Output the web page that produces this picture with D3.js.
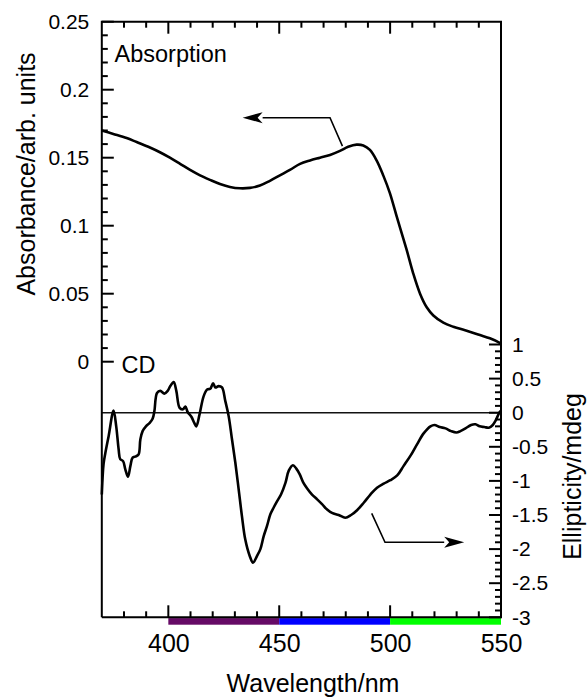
<!DOCTYPE html>
<html>
<head>
<meta charset="utf-8">
<script src="https://cdn.jsdelivr.net/npm/d3@7"></script>
<style>
    body { margin: 0; background: #fff; }
    svg { display: block; font-family: "Liberation Sans", Arial, sans-serif; }
</style>
</head>
<body>
<div id="chart"></div>
<script>
// absorption spectrum (left axis)
const absWavelength = [370.0, 375.2, 381.2, 385.7, 391.7, 396.2, 400.7, 405.3, 409.8, 414.3, 418.8, 423.3, 427.8, 432.3, 436.8, 441.3, 445.8, 450.3, 454.8, 459.4, 463.9, 468.4, 472.9, 477.4, 481.1, 484.9, 487.9, 490.9, 493.9, 496.9, 499.9, 503.0, 504.4, 507.5, 510.4, 513.5, 516.5, 519.5, 524.0, 528.5, 534.5, 540.5, 545.0, 549.2, 550.0];
const absorbance = [0.170, 0.1675, 0.1645, 0.1615, 0.1575, 0.154, 0.150, 0.1455, 0.141, 0.137, 0.1337, 0.1307, 0.1285, 0.1275, 0.1278, 0.1295, 0.133, 0.137, 0.141, 0.1455, 0.148, 0.150, 0.152, 0.155, 0.158, 0.1596, 0.159, 0.1557, 0.148, 0.137, 0.124, 0.1066, 0.099, 0.082, 0.065, 0.050, 0.040, 0.034, 0.0287, 0.0257, 0.0228, 0.0196, 0.0172, 0.0140, 0.013];

// CD spectrum (right axis)
const cdWavelength = [370.0, 370.8, 371.6, 373.1, 375.3, 376.5, 377.6, 378.3, 379.6, 380.6, 381.8, 382.9, 383.9, 385.4, 386.6, 387.4, 388.4, 389.9, 391.6, 392.9, 393.7, 394.9, 396.4, 398.2, 399.7, 400.9, 402.4, 403.6, 405.1, 406.6, 407.7, 408.7, 410.4, 411.7, 412.6, 414.1, 415.9, 417.5, 418.9, 420.2, 421.2, 422.7, 424.2, 425.7, 427.2, 428.7, 430.2, 431.7, 433.2, 434.7, 436.7, 438.2, 440.0, 441.5, 443.0, 444.5, 446.0, 447.5, 449.0, 450.8, 452.8, 454.3, 456.2, 457.7, 459.2, 460.8, 462.6, 464.8, 467.1, 469.3, 471.6, 473.8, 476.8, 479.8, 482.4, 485.1, 488.1, 491.1, 494.1, 497.1, 500.1, 503.2, 506.1, 509.2, 512.2, 515.2, 518.2, 520.0, 522.4, 525.0, 527.5, 529.9, 531.7, 534.0, 536.5, 538.5, 540.4, 542.5, 544.5, 546.3, 547.5, 548.5, 549.4, 550.0];
const ellipticity = [-1.2, -0.75, -0.59, -0.34, 0.03, -0.20, -0.54, -0.68, -0.71, -0.83, -0.94, -0.78, -0.66, -0.64, -0.61, -0.39, -0.27, -0.20, -0.15, -0.09, 0.02, 0.29, 0.32, 0.28, 0.32, 0.39, 0.45, 0.32, 0.07, 0.05, 0.09, 0.01, -0.06, -0.15, -0.20, -0.02, 0.24, 0.34, 0.35, 0.43, 0.37, 0.39, 0.37, 0.17, -0.05, -0.39, -0.73, -1.12, -1.52, -1.86, -2.10, -2.20, -2.10, -2.00, -1.81, -1.66, -1.49, -1.39, -1.30, -1.20, -1.03, -0.85, -0.77, -0.82, -0.90, -1.02, -1.11, -1.20, -1.27, -1.34, -1.42, -1.47, -1.50, -1.54, -1.50, -1.43, -1.32, -1.20, -1.10, -1.04, -0.99, -0.92, -0.78, -0.63, -0.46, -0.30, -0.20, -0.18, -0.21, -0.23, -0.27, -0.29, -0.27, -0.23, -0.18, -0.17, -0.20, -0.21, -0.22, -0.18, -0.12, -0.05, 0.01, 0.03];

const xTicks = [400, 450, 500, 550];
const absTicks = [0, 0.05, 0.1, 0.15, 0.2, 0.25];
const cdTicks = [-3, -2.5, -2, -1.5, -1, -0.5, 0, 0.5, 1];
const bandEdges = [400, 450, 500, 550];

document.addEventListener("DOMContentLoaded", () => {
    const width = 588;
    const height = 698;
    const bandColors = ["#660a66", "#0000ff", "#00ff00"];
    const major = 12;
    const minor = 6;

    const x = d3.scaleLinear().domain([370, 550]).range([101.8, 501]);
    const yAbs = d3.scaleLinear().domain([0, 0.25]).range([361.7, 21.7]);
    const yCD = d3.scaleLinear().domain([-3, 1]).range([617.3, 344.5]);

    const [x0, x1] = x.range();
    const yTop = yAbs(0.25);
    const yBot = yCD(-3);

    const svg = d3.select("#chart")
        .append("svg")
        .attr("width", width)
        .attr("height", height);

    // colour bands under the x axis
    svg.selectAll("rect.band")
        .data(d3.pairs(bandEdges))
        .enter()
        .append("rect")
        .attr("class", "band")
        .attr("x", d => x(d[0]))
        .attr("y", yBot + 0.8)
        .attr("width", d => x(d[1]) - x(d[0]))
        .attr("height", 6.6)
        .attr("fill", (_, i) => bandColors[i]);

    // zero line of the CD spectrum
    svg.append("line")
        .attr("x1", x0).attr("x2", x1)
        .attr("y1", yCD(0)).attr("y2", yCD(0))
        .attr("stroke", "#111")
        .attr("stroke-width", 1.5);

    // inward ticks, drawn straight from the scales
    const ticks = (values, isMajor, pos, orient) => {
        const len = d => isMajor(d) ? major : minor;
        svg.append("g")
            .selectAll("line")
            .data(values)
            .enter()
            .append("line")
            .attr("stroke", "#000")
            .attr("stroke-width", 2)
            .each(function (d) {
                const l = d3.select(this);
                if (orient === "bottom" || orient === "top") {
                    const y = orient === "bottom" ? yBot : yTop;
                    const dir = orient === "bottom" ? -1 : 1;
                    l.attr("x1", pos(d)).attr("x2", pos(d)).attr("y1", y).attr("y2", y + dir * len(d));
                } else {
                    const xx = orient === "left" ? x0 : x1;
                    const dir = orient === "left" ? 1 : -1;
                    l.attr("y1", pos(d)).attr("y2", pos(d)).attr("x1", xx).attr("x2", xx + dir * len(d));
                }
            });
    };

    const near = (arr) => d => arr.some(v => Math.abs(v - d) < 1e-6);
    const xMinor = d3.range(380, 550, 10);
    ticks(xMinor, near(xTicks), x, "bottom");
    ticks(xMinor, near(xTicks), x, "top");
    ticks(d3.range(0, 26).map(i => i / 100), near(absTicks), yAbs, "left");
    ticks(d3.range(-30, 11).map(i => i / 10), near(cdTicks), yCD, "right");

    const styleAxis = (g, size) => {
        g.select(".domain").remove();
        g.selectAll(".tick line").remove();
        g.selectAll(".tick text")
            .attr("fill", "#000")
            .style("font-size", size + "px")
            .style("font-family", "'Liberation Sans', Arial, sans-serif");
    };
    const fmt = d => String(d);

    // tick labels from d3 axes
    svg.append("g")
        .attr("transform", `translate(0,${yBot})`)
        .call(d3.axisBottom(x).tickValues(xTicks).tickSizeInner(0).tickSizeOuter(0).tickPadding(16.6).tickFormat(fmt))
        .call(g => styleAxis(g, 25));
    svg.append("g")
        .attr("transform", `translate(${x0},0)`)
        .call(d3.axisLeft(yAbs).tickValues(absTicks).tickSizeInner(0).tickSizeOuter(0).tickPadding(12.5).tickFormat(fmt))
        .call(g => styleAxis(g, 21));
    svg.append("g")
        .attr("transform", `translate(${x1},0)`)
        .call(d3.axisRight(yCD).tickValues(cdTicks).tickSizeInner(0).tickSizeOuter(0).tickPadding(11).tickFormat(fmt))
        .call(g => styleAxis(g, 21));

    // frame
    svg.append("path")
        .attr("d", `M${x0},${yBot}V${yTop}H${x1}V${yBot}H${x0}`)
        .attr("fill", "none")
        .attr("stroke", "#000")
        .attr("stroke-width", 2)
        .attr("stroke-linejoin", "miter");

    // spectra
    const absLine = d3.line()
        .x(i => x(absWavelength[i]))
        .y(i => yAbs(absorbance[i]))
        .curve(d3.curveCatmullRom.alpha(0.5));
    const cdLine = d3.line()
        .x(i => x(cdWavelength[i]))
        .y(i => yCD(ellipticity[i]))
        .curve(d3.curveCatmullRom.alpha(0.5));

    svg.append("path")
        .attr("d", absLine(d3.range(absWavelength.length)))
        .attr("fill", "none")
        .attr("stroke", "#000")
        .attr("stroke-width", 2.6)
        .attr("stroke-linejoin", "round");
    svg.append("path")
        .attr("d", cdLine(d3.range(cdWavelength.length)))
        .attr("fill", "none")
        .attr("stroke", "#000")
        .attr("stroke-width", 2.6)
        .attr("stroke-linejoin", "round");

    // arrows pointing to the axis each curve belongs to
    const arrow = (pts, dir) => {
        const tip = pts[pts.length - 1];
        const headLen = 20;
        const base = [tip[0] - dir * headLen, tip[1]];
        const shaft = pts.slice(0, -1).concat([base]);
        svg.append("path")
            .attr("d", d3.line()(shaft))
            .attr("fill", "none")
            .attr("stroke", "#000")
            .attr("stroke-width", 1.6);
        svg.append("path")
            .attr("d", `M${tip[0]},${tip[1]}L${base[0]},${base[1] - 5.5}L${base[0] + dir * 5},${base[1]}L${base[0]},${base[1] + 5.5}Z`)
            .attr("fill", "#000");
    };
    arrow([[x(478.5), yAbs(0.1585)], [x(472.9), yAbs(0.1794)], [x(433.5), yAbs(0.1794)]], -1);
    arrow([[x(491.7), yCD(-1.475)], [x(497.7), yCD(-1.90)], [x(533.4), yCD(-1.90)]], 1);

    // labels
    svg.append("text")
        .attr("x", 114.5).attr("y", 61.5)
        .style("font-size", "23.5px")
        .text("Absorption");
    svg.append("text")
        .attr("x", 121.5).attr("y", 373)
        .style("font-size", "23.5px")
        .text("CD");

    svg.append("text")
        .attr("x", 313).attr("y", 692)
        .attr("text-anchor", "middle")
        .style("font-size", "25px")
        .text("Wavelength/nm");
    svg.append("text")
        .attr("transform", "translate(35,174) rotate(-90)")
        .attr("text-anchor", "middle")
        .style("font-size", "25px")
        .text("Absorbance/arb. units");
    svg.append("text")
        .attr("transform", "translate(581,476.5) rotate(-90)")
        .attr("text-anchor", "middle")
        .style("font-size", "25px")
        .text("Ellipticity/mdeg");
});
</script>
</body>
</html>
